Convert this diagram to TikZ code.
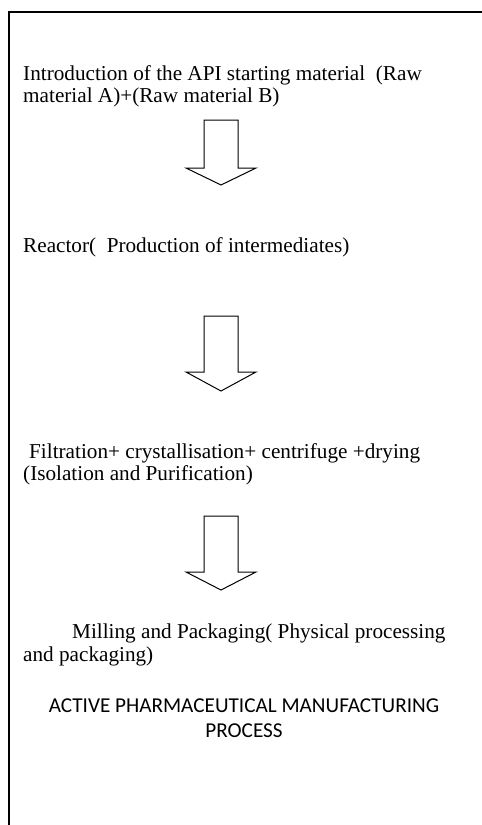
\documentclass[tikz,border=0pt]{standalone}
\usepackage{fontspec}
\setmainfont{Liberation Serif}
\newfontfamily\capsfont{Carlito}
\usetikzlibrary{positioning,calc}

\begin{document}
\begin{tikzpicture}[x=1pt,y=-1pt,
    steptext/.style={anchor=base west,inner sep=0pt,font=\fontsize{21.2}{22}\selectfont},
    titletext/.style={anchor=base,inner sep=0pt,font=\capsfont\fontsize{21.2}{26}\selectfont},
    flowarrow/.style={draw=black,line width=1pt,fill=white,line join=miter}]
      \useasboundingbox (0,0) rectangle (482,825);
      \coordinate (FrameBL) at (9,825);
      \coordinate (FrameTL) at (9,12);
      \coordinate (FrameTR) at (482,12);
      \draw [line width=2pt] (FrameBL) -- (FrameTL) -- (FrameTR);% open frame, left and top

      % the steps
      \node[steptext] (intro1) at (23,80) {Introduction of the API starting material\ \ (Raw};
      \node[steptext] (intro2) at (23,102) {material A)+(Raw material B)};
      \node[steptext] (reactor) at (23,252) {Reactor(\ \ Production of intermediates)};
      \node[steptext] (filter1) at (29,458) {Filtration+ crystallisation+ centrifuge +drying};
      \node[steptext] (filter2) at (23,480) {(Isolation and Purification)};
      \node[steptext] (mill1) at (72,638) {Milling and Packaging( Physical processing};
      \node[steptext] (mill2) at (23,661) {and packaging)};

      % caption
      \node[titletext] (title1) at (244,712) {ACTIVE PHARMACEUTICAL MANUFACTURING};
      \node[titletext] (title2) at (244,737) {PROCESS};

      % block arrows between the steps
      \foreach \top/\neck/\tip in {120/168/185, 316/372/391, 516/572/590}
      {
        \draw[flowarrow] (204,\top) -- (238,\top) -- (238,\neck) -- (256,\neck)
              -- (221,\tip) -- (186,\neck) -- (204,\neck) -- cycle;
      }
\end{tikzpicture}
\end{document}
